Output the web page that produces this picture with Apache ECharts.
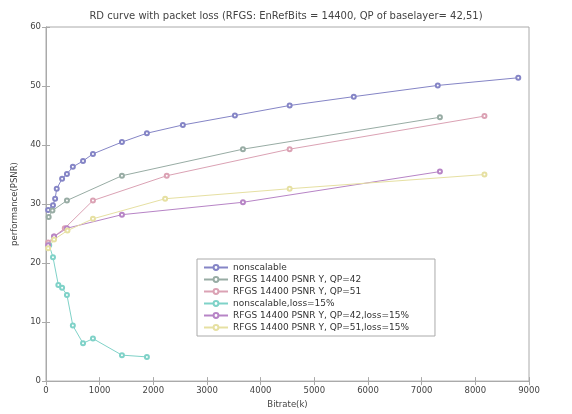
<!DOCTYPE html>
<html>
<head>
<meta charset="utf-8">
<script src="https://cdn.jsdelivr.net/npm/echarts@6/dist/echarts.min.js"></script>
<style>
  html, body { margin: 0; padding: 0; background: #fff; }
  #chart { width: 572px; height: 414px; }
</style>
</head>
<body>
<div id="chart"></div>
<script>
// values (bitrate, PSNR)
const seriesNames = [
  'nonscalable',
  'RFGS 14400 PSNR Y, QP=42',
  'RFGS 14400 PSNR Y, QP=51',
  'nonscalable,loss=15%',
  'RFGS 14400 PSNR Y, QP=42,loss=15%',
  'RFGS 14400 PSNR Y, QP=51,loss=15%'
];
const nonscalableX = [40, 130, 170, 200, 300, 390, 500, 690, 875, 1415, 1880, 2550, 3520, 4540, 5735, 7300, 8800];
const nonscalableY = [29.0, 29.8, 30.9, 32.6, 34.3, 35.1, 36.3, 37.3, 38.5, 40.5, 42.0, 43.4, 45.0, 46.7, 48.2, 50.1, 51.4];
const qp42X = [50, 120, 390, 1415, 3670, 7340];
const qp42Y = [27.8, 28.9, 30.6, 34.8, 39.3, 44.7];
const qp51X = [40, 150, 350, 875, 2250, 4540, 8170];
const qp51Y = [23.5, 24.5, 25.9, 30.6, 34.8, 39.3, 44.9];
const nsLossX = [60, 130, 230, 300, 390, 500, 690, 875, 1415, 1880];
const nsLossY = [23.0, 21.0, 16.3, 15.8, 14.6, 9.4, 6.4, 7.2, 4.4, 4.1];
const qp42LossX = [40, 150, 390, 1415, 3670, 7340];
const qp42LossY = [23.0, 24.5, 25.9, 28.2, 30.3, 35.5];
const qp51LossX = [40, 150, 400, 875, 2220, 4540, 8170];
const qp51LossY = [22.5, 24.0, 25.5, 27.5, 30.9, 32.6, 35.0];

const xTicks = [0, 1000, 2000, 3000, 4000, 5000, 6000, 7000, 8000, 9000];
const yTicks = [0, 10, 20, 30, 40, 50, 60];

const colors = ['#8585c6', '#98aca4', '#dba2b4', '#7fd2c8', '#b784c6', '#e6e0a2'];

function pairs(xs, ys) {
  return xs.map((x, i) => [x, ys[i]]);
}
const allX = [nonscalableX, qp42X, qp51X, nsLossX, qp42LossX, qp51LossX];
const allY = [nonscalableY, qp42Y, qp51Y, nsLossY, qp42LossY, qp51LossY];

const myChart = echarts.init(document.getElementById('chart'));
const axisText = { color: '#444', fontSize: 8.5, fontFamily: 'DejaVu Sans' };
const option = {
  backgroundColor: '#fff',
  animation: false,
  color: colors,
  title: {
    text: 'RD curve with packet loss (RFGS: EnRefBits = 14400, QP of baselayer= 42,51)',
    left: 'center',
    top: 6,
    textStyle: { color: '#444', fontSize: 10, fontWeight: 'normal', fontFamily: 'DejaVu Sans' }
  },
  grid: {
    left: 46, right: 43, top: 27, bottom: 30,
    show: true, borderColor: '#aaa', borderWidth: 1
  },
  legend: {
    orient: 'vertical',
    left: 197,
    top: 259,
    itemWidth: 24,
    itemHeight: 6,
    itemGap: 3,
    padding: [4, 26, 4, 6],
    backgroundColor: '#fff',
    borderColor: '#aaa',
    borderWidth: 1,
    borderRadius: 0,
    textStyle: { color: '#333', fontSize: 9, fontFamily: 'DejaVu Sans' },
    data: seriesNames
  },
  xAxis: [{
    type: 'value',
    min: 0, max: 9000, interval: 1000,
    name: 'Bitrate(k)',
    nameLocation: 'middle',
    nameGap: 17,
    nameTextStyle: axisText,
    axisLine: { lineStyle: { color: '#aaa' } },
    axisTick: { inside: true, length: 4, lineStyle: { color: '#aaa' } },
    axisLabel: Object.assign({ margin: 5, formatter: v => String(v) }, axisText),
    splitLine: { show: false }
  }, {
    type: 'value',
    position: 'top',
    min: 0, max: 9000, interval: 1000,
    axisLine: { lineStyle: { color: '#aaa' } },
    axisTick: { inside: true, length: 4, lineStyle: { color: '#aaa' } },
    axisLabel: { show: false },
    splitLine: { show: false }
  }],
  yAxis: [{
    type: 'value',
    min: 0, max: 60, interval: 10,
    name: 'performance(PSNR)',
    nameLocation: 'middle',
    nameGap: 22,
    nameTextStyle: axisText,
    axisLine: { show: true, lineStyle: { color: '#aaa' } },
    axisTick: { show: true, inside: true, length: 4, lineStyle: { color: '#aaa' } },
    axisLabel: Object.assign({ margin: 5 }, axisText),
    splitLine: { show: false }
  }, {
    type: 'value',
    position: 'right',
    min: 0, max: 60, interval: 10,
    axisLine: { show: true, lineStyle: { color: '#aaa' } },
    axisTick: { show: true, inside: true, length: 4, lineStyle: { color: '#aaa' } },
    axisLabel: { show: false },
    splitLine: { show: false }
  }],
  series: seriesNames.map((name, i) => ({
    name: name,
    type: 'line',
    data: pairs(allX[i], allY[i]),
    symbol: 'emptyCircle',
    symbolSize: 4,
    lineStyle: { width: 1 },
    itemStyle: { borderWidth: 1 }
  }))
};
myChart.setOption(option);
</script>
</body>
</html>
